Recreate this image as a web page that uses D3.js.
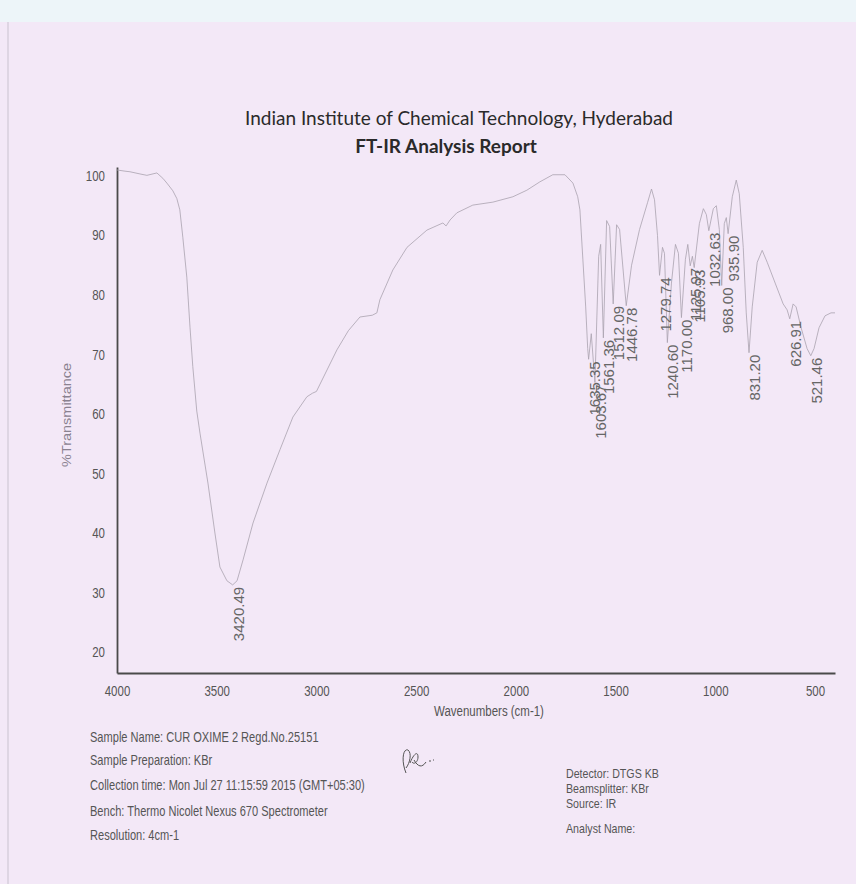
<!DOCTYPE html>
<html>
<head>
<meta charset="utf-8">
<script src="https://cdn.jsdelivr.net/npm/d3@7/dist/d3.min.js"></script>
<style>
  html, body { margin: 0; padding: 0; background: #f3e8f7; }
  svg { display: block; }
</style>
</head>
<body>
<svg id="chart" width="856" height="884"></svg>
<script>

/* Data
-------------------------------------------------------------------------------------------------*/
// [wavenumber (cm-1), %T]
const spectrum = [
  [4000, 101.0], [3960, 100.8], [3935, 100.7], [3880, 100.3], [3850, 100.1], [3800, 100.5],
  [3770, 99.6], [3750, 98.8], [3720, 97.5], [3700, 96.2], [3685, 94.3], [3670, 89.7],
  [3650, 83.0], [3634, 74.6], [3620, 68.0], [3600, 60.5], [3584, 56.8], [3544, 48.4],
  [3509, 40.0], [3484, 34.3], [3449, 32.0], [3420, 31.3], [3398, 32.0], [3368, 35.5],
  [3318, 41.7], [3248, 48.4], [3183, 54.0], [3118, 59.5], [3048, 62.9], [3020, 63.5],
  [3000, 63.8], [2947, 67.4], [2897, 70.8], [2840, 74.0], [2782, 76.3], [2720, 76.6],
  [2697, 77.0], [2682, 79.2], [2617, 84.2], [2546, 88.0], [2446, 90.9], [2366, 92.1],
  [2350, 91.6], [2330, 92.6], [2296, 93.8], [2216, 95.1], [2115, 95.6], [2015, 96.5],
  [1945, 97.6], [1880, 99.0], [1815, 100.2], [1754, 100.2], [1714, 98.8], [1690, 96.5],
  [1679, 94.3], [1664, 85.9], [1650, 78.0], [1640, 71.0], [1635.35, 69.2], [1622, 73.5],
  [1603.67, 65.3], [1585, 86.5], [1575, 88.5], [1561.36, 72.8], [1545, 92.5], [1530, 91.5],
  [1512.09, 78.5], [1495, 91.8], [1480, 91.0], [1446.78, 78.2], [1420, 85.0], [1380, 91.0],
  [1340, 95.5], [1320, 97.8], [1305, 96.0], [1290, 90.0], [1279.74, 83.3], [1265, 88.0],
  [1255, 87.0], [1240.60, 72.0], [1220, 82.0], [1200, 88.5], [1185, 87.0], [1170.00, 76.2],
  [1150, 86.0], [1138, 88.5], [1125.97, 84.9], [1115, 86.5], [1105.93, 84.6], [1080, 92.0],
  [1060, 94.5], [1045, 93.5], [1032.63, 90.8], [1010, 94.5], [995, 95.0], [980, 91.0],
  [968.00, 81.6], [955, 92.0], [945, 93.0], [935.90, 90.3], [915, 96.5], [895, 99.3],
  [880, 97.0], [860, 88.0], [845, 77.0], [831.20, 70.3], [815, 78.0], [790, 85.5],
  [765, 87.5], [740, 85.5], [700, 82.0], [660, 78.5], [640, 77.5], [626.91, 76.0],
  [610, 78.5], [595, 78.0], [570, 74.5], [540, 71.0], [521.46, 69.8], [505, 71.0],
  [480, 74.5], [450, 76.5], [420, 77.0], [400, 77.0]
]

// peak labels: [wavenumber, %T at the peak]
const peaks = [
  [3420.49, 31.3], [1635.35, 69.2], [1603.67, 65.3], [1561.36, 72.8], [1512.09, 78.5],
  [1446.78, 78.2], [1279.74, 83.3], [1240.60, 72.0], [1170.00, 76.2], [1125.97, 84.9],
  [1105.93, 84.6], [1032.63, 90.8], [968.00, 81.6], [935.90, 90.3], [831.20, 70.3],
  [626.91, 76.0], [521.46, 69.8]
]

const xTicks = [4000, 3500, 3000, 2500, 2000, 1500, 1000, 500]
const yTicks = [20, 30, 40, 50, 60, 70, 80, 90, 100]

const titleLines = ["Indian Institute of Chemical Technology, Hyderabad", "FT-IR Analysis Report"]

const infoLeft = [
  "Sample Name:  CUR  OXIME 2  Regd.No.25151",
  "Sample Preparation: KBr",
  "Collection time: Mon Jul 27 11:15:59 2015 (GMT+05:30)",
  "Bench: Thermo Nicolet Nexus 670 Spectrometer",
  "Resolution: 4cm-1"
]
const infoRight = ["Detector:  DTGS KB", "Beamsplitter:  KBr", "Source:  IR", "Analyst Name:"]

/* Setup
-------------------------------------------------------------------------------------------------*/
const svg = d3.select("#chart")
const plain = "'Liberation Sans', Arial, sans-serif"
const squeeze = 0.82   // pas de police "narrow" installée : on compresse en largeur

// papier scanné
svg.append("rect").attr("width", 856).attr("height", 884).style("fill", "#f3e8f7")
svg.append("rect").attr("width", 856).attr("height", 22).style("fill", "#edf5f9")
svg.append("line")
  .attr("x1", 8).attr("x2", 8).attr("y1", 22).attr("y2", 884)
  .style("stroke", "#c9c2cf").style("stroke-width", 1)

const x = d3.scaleLinear().domain([4000, 400]).range([117, 835])
const y = d3.scaleLinear().domain([16.5, 101.5]).range([673, 167])

/* Titre
-------------------------------------------------------------------------------------------------*/
svg.append("text")
  .attr("x", 459).attr("y", 125)
  .style("font-family", "Lato, 'Open Sans', sans-serif")
  .style("font-size", "19px")
  .style("fill", "#2a2a2a")
  .style("text-anchor", "middle")
  .text(titleLines[0])

svg.append("text")
  .attr("x", 446).attr("y", 153)
  .style("font-family", "Lato, 'Open Sans', sans-serif")
  .style("font-size", "19px")
  .style("font-weight", "bold")
  .style("fill", "#2a2a2a")
  .style("text-anchor", "middle")
  .text(titleLines[1])

/* Axes
-------------------------------------------------------------------------------------------------*/
const gx = svg.append("g")
  .attr("transform", "translate(0," + y(16.5) + ")")
  .call(d3.axisBottom(x).tickValues(xTicks).tickFormat(d3.format("d")).tickSize(0).tickPadding(13))

const gy = svg.append("g")
  .attr("transform", "translate(" + x(4000) + ",0)")
  .call(d3.axisLeft(y).tickValues(yTicks).tickSize(0).tickPadding(12))

;[gx, gy].forEach(g => {
  g.select(".domain").style("stroke", "#4a4a4a").style("stroke-width", 1.8)
  g.selectAll("text")
    .style("font-family", plain)
    .style("font-size", "14px")
    .style("fill", "#555")
    .attr("transform", "scale(" + squeeze + ",1)")
})
gy.selectAll("text").attr("x", -12 / squeeze)

svg.append("text")
  .attr("transform", "translate(489,716) scale(" + squeeze + ",1)")
  .style("font-family", plain)
  .style("font-size", "14px")
  .style("fill", "#555")
  .style("text-anchor", "middle")
  .text("Wavenumbers (cm-1)")

svg.append("text")
  .attr("transform", "translate(71,415) rotate(-90)")
  .attr("textLength", 104)
  .attr("lengthAdjust", "spacingAndGlyphs")
  .style("font-family", plain)
  .style("font-size", "13px")
  .style("fill", "#8a8290")
  .style("text-anchor", "middle")
  .text("%Transmittance")

/* Spectre
-------------------------------------------------------------------------------------------------*/
const line = d3.line()
  .x(d => x(d[0]))
  .y(d => y(d[1]))

svg.append("path")
  .datum(spectrum)
  .style("fill", "none")
  .style("stroke", "#aaa2ae")
  .style("stroke-width", 0.8)
  .attr("d", line)

// labels des pics
svg.append("g")
  .selectAll("text")
  .data(peaks)
  .enter()
  .append("text")
  .attr("transform", d => "translate(" + (x(d[0]) + 11) + "," + (y(d[1]) + 2) + ") rotate(-90)")
  .style("font-family", plain)
  .style("font-size", "15px")
  .style("fill", "#666")
  .style("text-anchor", "end")
  .text(d => d[0].toFixed(2))

/* Infos
-------------------------------------------------------------------------------------------------*/
const leftY = [742, 765, 790, 816, 840]
svg.append("g")
  .attr("transform", "translate(90,0) scale(0.79,1)")
  .selectAll("text")
  .data(infoLeft)
  .enter()
  .append("text")
  .attr("x", 0)
  .attr("y", (d, i) => leftY[i])
  .style("font-family", plain)
  .style("font-size", "14px")
  .style("fill", "#555")
  .text(d => d)

const rightY = [778, 793, 808, 833]
svg.append("g")
  .attr("transform", "translate(566,0) scale(" + squeeze + ",1)")
  .selectAll("text")
  .data(infoRight)
  .enter()
  .append("text")
  .attr("x", 0)
  .attr("y", (d, i) => rightY[i])
  .style("font-family", plain)
  .style("font-size", "13px")
  .style("fill", "#555")
  .text(d => d)

// paraphe
svg.append("path")
  .attr("d", "M406,773 C401,761 403,748 408,750 C412,753 410,763 406,768 M410,763 C414,753 418,751 418,757 C418,762 414,765 412,762 M414,760 C418,767 422,768 426,762 M429,761 l2,0 M433,760 l1,0")
  .style("fill", "none")
  .style("stroke", "#555")
  .style("stroke-width", 1)

</script>
</body>
</html>
